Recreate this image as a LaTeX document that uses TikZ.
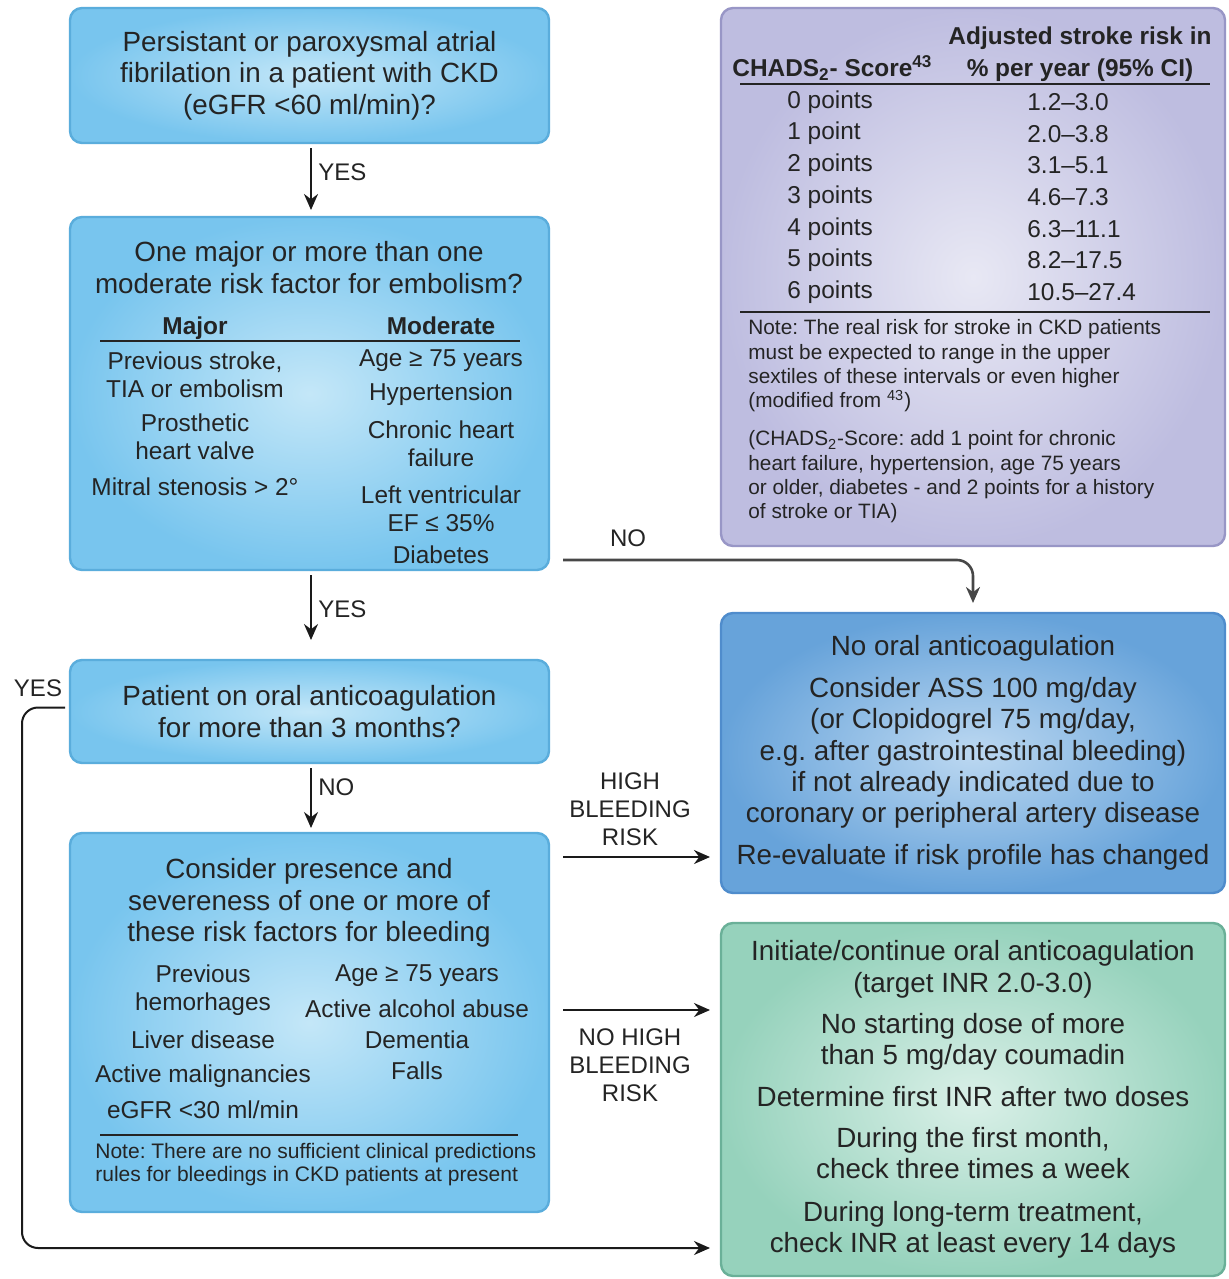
\documentclass[tikz,border=0pt]{standalone}
\usepackage{fontspec}
\setmainfont{Liberation Sans}
\usetikzlibrary{arrows.meta,calc}

\definecolor{txt}{HTML}{242424}
\definecolor{lineC}{HTML}{1A1A1A}
\definecolor{blueO}{HTML}{78C5EE}
\definecolor{blueI}{HTML}{C4E7F8}
\definecolor{blueB}{HTML}{5AADDC}
\definecolor{nO}{HTML}{67A3DA}
\definecolor{nI}{HTML}{BCD8F1}
\definecolor{nB}{HTML}{4F8CCC}
\definecolor{pO}{HTML}{BEBDE0}
\definecolor{pI}{HTML}{E8E8F4}
\definecolor{pB}{HTML}{9896C6}
\definecolor{gO}{HTML}{96D2BC}
\definecolor{gI}{HTML}{DAF0E8}
\definecolor{gB}{HTML}{6AB098}

\newcommand\fmain{\fontsize{13.9}{15.75}\selectfont}
\newcommand\fsubt{\fontsize{12.2}{14}\selectfont}
\newcommand\ftab{\fontsize{12.2}{15.85}\selectfont}
\newcommand\fnoteA{\fontsize{10.4}{12.15}\selectfont}
\newcommand\fnoteB{\fontsize{10.5}{11.5}\selectfont}
\newcommand\flbl{\fontsize{12}{14}\selectfont}

\begin{document}
\frenchspacing
\begin{tikzpicture}[x=0.5pt,y=-0.5pt, font=\fmain, text=txt,
  box/.style={draw, rounded corners=6pt, line width=1.2pt, inner sep=4pt, outer sep=0pt, align=center},
  bluebox/.style={box, draw=blueB, inner color=blueI, outer color=blueO},
  nobox/.style={box, draw=nB, inner color=nI, outer color=nO},
  purplebox/.style={box, draw=pB, inner color=pI, outer color=pO},
  greenbox/.style={box, draw=gB, inner color=gI, outer color=gO},
  arr/.style={draw=lineC, line width=1pt, -{Stealth[length=8pt,width=7pt]}},
  lbl/.style={font=\flbl, align=center, inner sep=0pt},
  sub/.style={font=\fsubt, align=center, inner sep=0pt},
  rulel/.style={draw=txt, line width=0.9pt},
  ]
\useasboundingbox[fill=white] (0,0) rectangle (1229,1279);

% ---------- left column boxes ----------
\node[bluebox, minimum width=239.5pt, minimum height=67.5pt] (A) at (309.5,75.5)
  {Persistant or paroxysmal atrial\\fibrilation in a patient with CKD\\(eGFR <60 ml/min)?};

\node[bluebox, minimum width=239.5pt, minimum height=176.5pt] (B) at (309.5,393.5) {};
\node[align=center, inner sep=0pt] (Bt) at (309,267.5)
  {One major or more than one\\moderate risk factor for embolism?};
\node[sub, font=\fsubt\bfseries, anchor=base] (maj) at (195,334) {Major};
\node[sub, font=\fsubt\bfseries, anchor=base] (mod) at (441,334) {Moderate};
\draw[rulel] (100,341) -- (520,341);
\node[sub] (m1) at (195,375) {Previous stroke,\\TIA or embolism};
\node[sub] (m2) at (195,437) {Prosthetic\\heart valve};
\node[sub] (m3) at (195,487) {Mitral stenosis > 2°};
\node[sub] (d1) at (441,361) {Age ≥ 75 years};
\node[sub] (d2) at (441,394) {Hypertension};
\node[sub] (d3) at (441,444) {Chronic heart\\failure};
\node[sub] (d4) at (441,508.5) {Left ventricular\\EF ≤ 35\%};
\node[sub] (d5) at (441,555) {Diabetes};

\node[bluebox, minimum width=239.5pt, minimum height=51.5pt] (C) at (309.5,711.5)
  {Patient on oral anticoagulation\\for more than 3 months?};

\node[bluebox, minimum width=239.5pt, minimum height=189.5pt] (D) at (309.5,1022.5) {};
\node[align=center, inner sep=0pt] (Dt) at (309,903)
  {Consider presence and\\severeness of one or more of\\these risk factors for bleeding};
\node[sub] (b1) at (203,990) {Previous\\hemorhages};
\node[sub] (b2) at (203,1040) {Liver disease};
\node[sub] (b3) at (203,1076) {Active malignancies};
\node[sub] (b4) at (203,1110) {eGFR <30 ml/min};
\node[sub] (b5) at (417,976) {Age ≥ 75 years};
\node[sub] (b6) at (417,1009) {Active alcohol abuse};
\node[sub] (b7) at (417,1040) {Dementia};
\node[sub] (b8) at (417,1071) {Falls};
\draw[rulel] (100,1135) -- (518,1135);
\node[font=\fnoteB, align=left, anchor=west, inner sep=0pt] (dnote) at (95,1164.5)
  {Note: There are no sufficient clinical predictions\\rules for bleedings in CKD patients at present};

% ---------- right column boxes ----------
\node[purplebox, minimum width=252pt, minimum height=269pt] (P) at (973,277) {};
\node[font=\ftab\bfseries, align=center, inner sep=0pt] (adj) at (1080,54)
  {Adjusted stroke risk in\\\% per year (95\% CI)};
\node[font=\ftab\bfseries, anchor=west, inner sep=0pt] (chads) at (732,68)
  {CHADS\textsubscript{2}- Score\textsuperscript{43}};
\draw[rulel] (740,84) -- (1210,84);
\node[font=\ftab, align=left, anchor=west, inner sep=0pt] (pts) at (787,197)
  {0 points\\1 point\\2 points\\3 points\\4 points\\5 points\\6 points};
\node[font=\ftab, align=left, anchor=west, inner sep=0pt] (risk) at (1027,197)
  {1.2\textendash3.0\\2.0\textendash3.8\\3.1\textendash5.1\\4.6\textendash7.3\\6.3\textendash11.1\\8.2\textendash17.5\\10.5\textendash27.4};
\draw[rulel] (740,312) -- (1210,312);
\node[font=\fnoteA, align=left, anchor=west, inner sep=0pt] (note1) at (748,366)
  {Note: The real risk for stroke in CKD patients\\must be expected to range in the upper\\sextiles of these intervals or even higher\\(modified from \textsuperscript{43})};
\node[font=\fnoteA, align=left, anchor=west, inner sep=0pt] (note2) at (748,477)
  {(CHADS\textsubscript{2}-Score: add 1 point for chronic\\heart failure, hypertension, age 75 years\\or older, diabetes - and 2 points for a history\\of stroke or TIA)};

\node[nobox, minimum width=252pt, minimum height=140pt, font=\fontsize{13.9}{15.6}\selectfont] (N) at (973,753)
  {No oral anticoagulation\\[5.5pt]Consider ASS 100 mg/day\\(or Clopidogrel 75 mg/day,\\e.g. after gastrointestinal bleeding)\\if not already indicated due to\\coronary or peripheral artery disease\\[5.5pt]Re-evaluate if risk profile has changed};

\node[greenbox, minimum width=252pt, minimum height=176.5pt] (G) at (973,1099.5)
  {Initiate/continue oral anticoagulation\\(target INR 2.0-3.0)\\[4.8pt]No starting dose of more\\than 5 mg/day coumadin\\[4.8pt]Determine first INR after two doses\\[4.8pt]During the first month,\\check three times a week\\[5.5pt]During long-term treatment,\\check INR at least every 14 days};

% ---------- connectors ----------
\draw[arr] ([xshift=0.75pt,yshift=-2.5pt]A.south) -- ([xshift=0.75pt,yshift=3.5pt]B.north);
\node[lbl, anchor=west] (yes1) at (318,172) {YES};

\draw[arr] ([xshift=0.75pt,yshift=-2.5pt]B.south) -- ([xshift=0.75pt,yshift=10pt]C.north);
\node[lbl, anchor=west] (yes2) at (318,609) {YES};

\draw[arr] ([xshift=0.75pt,yshift=-2.5pt]C.south) -- ([xshift=0.75pt,yshift=2.5pt]D.north);
\node[lbl, anchor=west] (no2) at (318,787) {NO};

\draw[arr, draw=black!72, line width=1.3pt, rounded corners=8pt] ($(B.south east)+(14,-10)$) -| ([yshift=5pt]N.north);
\node[lbl] (no1) at (628,538) {NO};

\coordinate (hb) at ($(D.north east)+(14,24)$);
\draw[arr, shorten >=5.5pt] (hb) -- (hb -| N.west);
\node[lbl] (hbr) at (630,809) {HIGH\\BLEEDING\\RISK};

\coordinate (nh) at ($(D.north east)+(14,177)$);
\draw[arr, shorten >=5.5pt] (nh) -- (nh -| G.west);
\node[lbl] (nhbr) at (630,1065) {NO HIGH\\BLEEDING\\RISK};

\coordinate (yl) at (22,1248);
\draw[arr, rounded corners=8pt, shorten >=5.5pt] ([xshift=-2.5pt,yshift=2pt]C.west) -| (yl) -- (yl -| G.west);
\node[lbl] (yes3) at (38,688) {YES};

\end{tikzpicture}
\end{document}
